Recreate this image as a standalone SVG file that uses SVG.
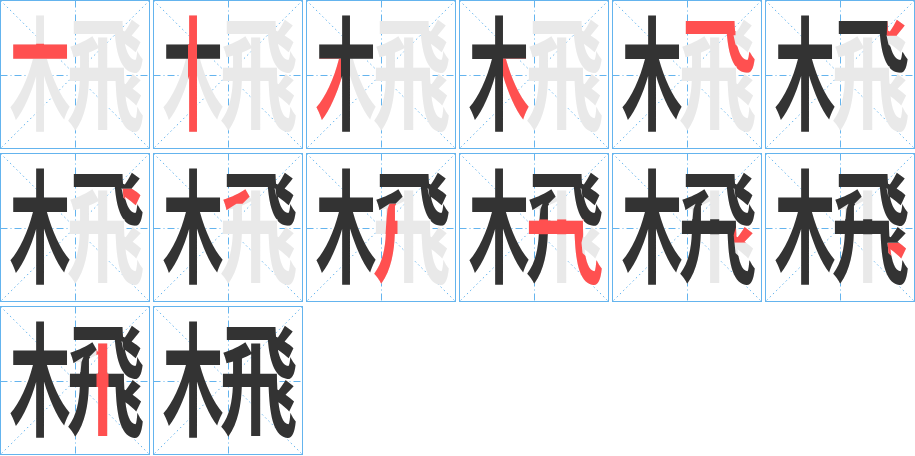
<svg xmlns="http://www.w3.org/2000/svg" width="915" height="456" viewBox="0 0 915 456">
<style>
.c{font-family:"Noto Sans CJK SC","Noto Sans CJK JP",sans-serif;font-size:130px;font-weight:700}
.gy{fill:#e9e9e9}
.dk{fill:#333333}
.rd{fill:#ff5050}
.bd{fill:none;stroke:#64b4ee;stroke-width:1}
.ct{fill:none;stroke:#64b4ee;stroke-width:1;stroke-dasharray:7 3 1 3}
.dg{fill:none;stroke:#64b4ee;stroke-width:1;stroke-dasharray:1.5 3}
</style>
<defs>
<g id="L"><text class="c" transform="translate(9,128) scale(0.47,1)">木</text></g>
<g id="R"><text class="c" transform="translate(66,128) scale(0.6,1)">飛</text></g>
<g id="grid">
<rect class="bd" x="0" y="0" width="149" height="148"/>
<path class="ct" d="M75 0V148M0 75H149"/>
<path class="dg" d="M0 0L149 148M149 0L0 148"/>
</g>
<rect id="s1" x="10" y="47" width="60" height="16"/>
<rect id="s2" x="34.5" y="10" width="9" height="135"/>
<rect id="s3" x="0" y="63" width="34.5" height="85"/>
<rect id="s4" x="43.5" y="63" width="35" height="85"/>
<polygon id="s5a" points="66,10 123,10 123,38 66,38"/>
<polygon id="s5b" points="110,38 121,38 123,48 131,56 138,56 148,51 148,78 124,78 124,71 110,71"/>
<polygon id="s6" points="123,10 148,10 148,38.5 122,38.5 121,38"/>
<polygon id="s7" points="122,38.5 148,38.5 148,51 138,56 131,56 123,48"/>
<polygon id="s8" points="66,38 97,38 97,46 89,54.5 83,54.5 66,66"/>
<polygon id="s9" points="83,54.5 89,54.5 92,60 91,71 91,87 96,87 96,148 50,148 50,87 79,87 80,71 81,60"/>
<rect id="s10a" x="66" y="71" width="58" height="16"/>
<polygon id="s10b" points="110,87 124,87 122,96 123,107 131,115 138,115 148,110 148,148 110,148"/>
<polygon id="s11" points="124,78 148,78 148,96 122,96 121,88"/>
<polygon id="s12" points="122,96 148,96 148,110 138,115 131,115 123,107"/>
<rect id="s13" x="96" y="37" width="12" height="108"/>
<clipPath id="c1"><use href="#s1"/></clipPath>
<clipPath id="c2"><use href="#s2"/></clipPath>
<clipPath id="c3"><use href="#s3"/></clipPath>
<clipPath id="c4"><use href="#s4"/></clipPath>
<clipPath id="c5"><use href="#s5a"/><use href="#s5b"/></clipPath>
<clipPath id="c6"><use href="#s6"/></clipPath>
<clipPath id="c7"><use href="#s7"/></clipPath>
<clipPath id="c8"><use href="#s8"/></clipPath>
<clipPath id="c9"><use href="#s9"/></clipPath>
<clipPath id="c10"><use href="#s10a"/><use href="#s10b"/></clipPath>
<clipPath id="c11"><use href="#s11"/></clipPath>
<clipPath id="c12"><use href="#s12"/></clipPath>
<clipPath id="c13"><use href="#s13"/></clipPath>
<clipPath id="d2"><use href="#s1"/><use href="#s2"/></clipPath>
<clipPath id="d3"><use href="#s1"/><use href="#s2"/><use href="#s3"/></clipPath>
<clipPath id="d6"><use href="#s5a"/><use href="#s5b"/><use href="#s6"/></clipPath>
<clipPath id="d7"><use href="#s5a"/><use href="#s5b"/><use href="#s6"/><use href="#s7"/></clipPath>
<clipPath id="d8"><use href="#s5a"/><use href="#s5b"/><use href="#s6"/><use href="#s7"/><use href="#s8"/></clipPath>
<clipPath id="d9"><use href="#s5a"/><use href="#s5b"/><use href="#s6"/><use href="#s7"/><use href="#s8"/><use href="#s9"/></clipPath>
<clipPath id="d10"><use href="#s5a"/><use href="#s5b"/><use href="#s6"/><use href="#s7"/><use href="#s8"/><use href="#s9"/><use href="#s10a"/><use href="#s10b"/></clipPath>
<clipPath id="d11"><use href="#s5a"/><use href="#s5b"/><use href="#s6"/><use href="#s7"/><use href="#s8"/><use href="#s9"/><use href="#s10a"/><use href="#s10b"/><use href="#s11"/></clipPath>
<clipPath id="d12"><use href="#s5a"/><use href="#s5b"/><use href="#s6"/><use href="#s7"/><use href="#s8"/><use href="#s9"/><use href="#s10a"/><use href="#s10b"/><use href="#s11"/><use href="#s12"/></clipPath>
</defs>

<g id="cell1" transform="translate(0.5,0.5)">
<use href="#grid"/>
<g transform="translate(0,-1) scale(1,0.94)">
<use href="#L" class="gy"/><use href="#R" class="gy"/>
<use href="#L" class="rd" clip-path="url(#c1)"/>
</g></g>

<g id="cell2" transform="translate(153.5,0.5)">
<use href="#grid"/>
<g transform="translate(0,-1) scale(1,0.94)">
<use href="#L" class="gy"/><use href="#R" class="gy"/>
<use href="#L" class="dk" clip-path="url(#c1)"/>
<use href="#L" class="rd" clip-path="url(#c2)"/>
</g></g>

<g id="cell3" transform="translate(306.5,0.5)">
<use href="#grid"/>
<g transform="translate(0,-1) scale(1,0.94)">
<use href="#L" class="gy"/><use href="#R" class="gy"/>
<use href="#L" class="dk" clip-path="url(#d2)"/>
<use href="#L" class="rd" clip-path="url(#c3)"/>
</g></g>

<g id="cell4" transform="translate(459.5,0.5)">
<use href="#grid"/>
<g transform="translate(0,-1) scale(1,0.94)">
<use href="#L" class="gy"/><use href="#R" class="gy"/>
<use href="#L" class="dk" clip-path="url(#d3)"/>
<use href="#L" class="rd" clip-path="url(#c4)"/>
</g></g>

<g id="cell5" transform="translate(612.5,0.5)">
<use href="#grid"/>
<g transform="translate(0,-1) scale(1,0.94)">
<use href="#R" class="gy"/>
<use href="#L" class="dk"/>
<use href="#R" class="rd" clip-path="url(#c5)"/>
</g></g>

<g id="cell6" transform="translate(765.5,0.5)">
<use href="#grid"/>
<g transform="translate(0,-1) scale(1,0.94)">
<use href="#R" class="gy"/>
<use href="#L" class="dk"/>
<use href="#R" class="dk" clip-path="url(#c5)"/>
<use href="#R" class="rd" clip-path="url(#c6)"/>
</g></g>

<g id="cell7" transform="translate(0.5,153.5)">
<use href="#grid"/>
<g transform="translate(0,-1) scale(1,0.94)">
<use href="#R" class="gy"/>
<use href="#L" class="dk"/>
<use href="#R" class="dk" clip-path="url(#d6)"/>
<use href="#R" class="rd" clip-path="url(#c7)"/>
</g></g>

<g id="cell8" transform="translate(153.5,153.5)">
<use href="#grid"/>
<g transform="translate(0,-1) scale(1,0.94)">
<use href="#R" class="gy"/>
<use href="#L" class="dk"/>
<use href="#R" class="dk" clip-path="url(#d7)"/>
<use href="#R" class="rd" clip-path="url(#c8)"/>
</g></g>

<g id="cell9" transform="translate(306.5,153.5)">
<use href="#grid"/>
<g transform="translate(0,-1) scale(1,0.94)">
<use href="#R" class="gy"/>
<use href="#L" class="dk"/>
<use href="#R" class="dk" clip-path="url(#d8)"/>
<use href="#R" class="rd" clip-path="url(#c9)"/>
</g></g>

<g id="cell10" transform="translate(459.5,153.5)">
<use href="#grid"/>
<g transform="translate(0,-1) scale(1,0.94)">
<use href="#R" class="gy"/>
<use href="#L" class="dk"/>
<use href="#R" class="dk" clip-path="url(#d9)"/>
<use href="#R" class="rd" clip-path="url(#c10)"/>
</g></g>

<g id="cell11" transform="translate(612.5,153.5)">
<use href="#grid"/>
<g transform="translate(0,-1) scale(1,0.94)">
<use href="#R" class="gy"/>
<use href="#L" class="dk"/>
<use href="#R" class="dk" clip-path="url(#d10)"/>
<use href="#R" class="rd" clip-path="url(#c11)"/>
</g></g>

<g id="cell12" transform="translate(765.5,153.5)">
<use href="#grid"/>
<g transform="translate(0,-1) scale(1,0.94)">
<use href="#R" class="gy"/>
<use href="#L" class="dk"/>
<use href="#R" class="dk" clip-path="url(#d11)"/>
<use href="#R" class="rd" clip-path="url(#c12)"/>
</g></g>

<g id="cell13" transform="translate(0.5,306.5)">
<use href="#grid"/>
<g transform="translate(0,-1) scale(1,0.94)">
<use href="#R" class="gy"/>
<use href="#L" class="dk"/>
<use href="#R" class="dk" clip-path="url(#d12)"/>
<use href="#R" class="rd" clip-path="url(#c13)"/>
</g></g>

<g id="cell14" transform="translate(153.5,306.5)">
<use href="#grid"/>
<g transform="translate(0,-1) scale(1,0.94)">
<use href="#L" class="dk"/>
<use href="#R" class="dk"/>
</g></g>
</svg>
